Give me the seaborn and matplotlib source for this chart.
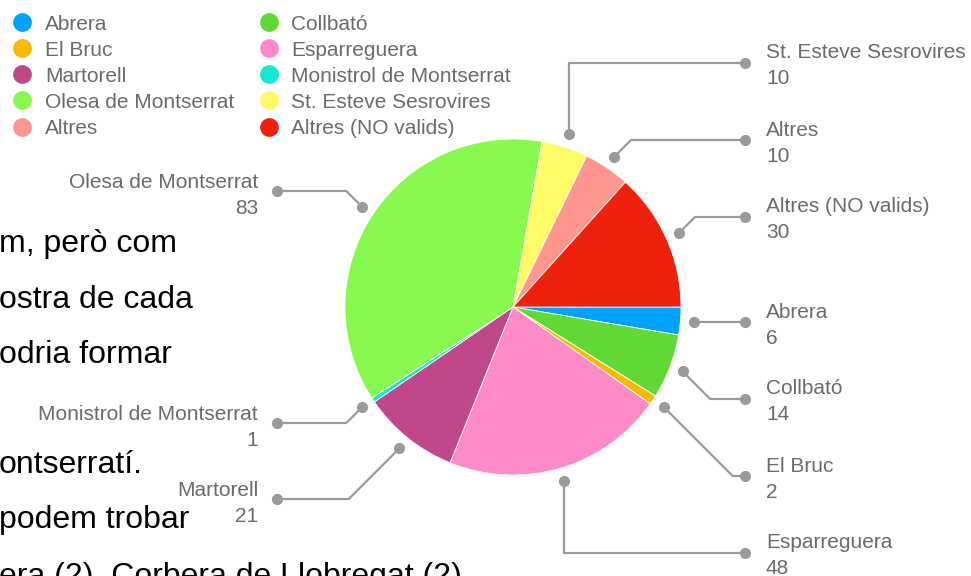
import numpy as np
import matplotlib
matplotlib.use("Agg")
import matplotlib.pyplot as plt
from matplotlib.lines import Line2D
import seaborn as sns

# data, in the order the slices run (clockwise from 3 o'clock)
towns = ['Abrera', 'Collbató', 'El Bruc', 'Esparreguera', 'Martorell',
         'Monistrol de Montserrat', 'Olesa de Montserrat', 'St. Esteve Sesrovires',
         'Altres', 'Altres (NO valids)']
counts = [6, 14, 2, 48, 21, 1, 83, 10, 10, 30]
colors = ['#00A2FF', '#61D836', '#F8BA00', '#FF8AC8', '#C0478A',
          '#16E7CF', '#88F94E', '#FFFB66', '#FF968D', '#EE220C']

# slide text showing behind the chart
slide_lines = ['m, però com', 'ostra de cada', 'odria formar',
               'ontserratí.', 'podem trobar', 'era (2), Corbera de Llobregat (2)']
slide_baselines = [252, 308, 363, 473, 528, 585]

# callout layout (pixels): side and y of the outer dot for each slice
callout_side = ['R', 'R', 'R', 'R', 'L', 'L', 'L', 'R', 'R', 'R']
callout_y = [322, 399, 476, 553, 499, 423, 191, 63, 140, 217]

W, H = 971, 576
cx, cy, radius = 513, 307, 168
fs = 15

sns.set_theme(style='white')
plt.rcParams['font.family'] = ['Liberation Sans', 'DejaVu Sans']

fig = plt.figure(figsize=(W / 100, H / 100), dpi=100)
ax = fig.add_axes([0, 0, 1, 1])

# text of the slide behind
for line, yb in zip(slide_lines, slide_baselines):
    ax.text(-1, yb, line, fontsize=23, color='black', va='baseline', ha='left')

wedges, _ = ax.pie(counts, colors=colors, startangle=0, counterclock=True,
                   center=(cx, cy), radius=radius,
                   wedgeprops=dict(edgecolor='white', linewidth=0.6))
ax.set_xlim(0, W)
ax.set_ylim(H, 0)
ax.set_aspect('equal')
ax.axis('off')

grey_line = '#9a9a9a'
grey_text = '#6b6b6b'
for w, name, val, side, ly in zip(wedges, towns, counts, callout_side, callout_y):
    mid = np.deg2rad((w.theta1 + w.theta2) / 2)
    px = cx + radius * 1.08 * np.cos(mid)
    py = cy + radius * 1.08 * np.sin(mid)
    if side == 'R':
        ex = 745
        if name == 'St. Esteve Sesrovires' or name == 'Esparreguera':
            kx = px
        else:
            kx = min(px + abs(ly - py), ex)
        ax.plot([px, kx, ex], [py, ly, ly], color=grey_line, lw=1.6,
                solid_capstyle='round', zorder=3)
        ax.plot([px, ex], [py, ly], 'o', color=grey_line, ms=7, zorder=4)
        ax.text(766, ly - 10, name, fontsize=fs, color=grey_text,
                ha='left', va='center')
        ax.text(766, ly + 16, str(val), fontsize=fs, color=grey_text,
                ha='left', va='center')
    else:
        ex = 277
        kx = max(px - abs(ly - py), ex)
        ax.plot([px, kx, ex], [py, ly, ly], color=grey_line, lw=1.6,
                solid_capstyle='round', zorder=3)
        ax.plot([px, ex], [py, ly], 'o', color=grey_line, ms=7, zorder=4)
        ax.text(258, ly - 8, name, fontsize=fs, color=grey_text,
                ha='right', va='center')
        ax.text(258, ly + 18, str(val), fontsize=fs, color=grey_text,
                ha='right', va='center')

# legend: two columns, filled row by row
order = [0, 2, 4, 6, 8, 1, 3, 5, 7, 9]
handles = [Line2D([], [], marker='o', ls='', ms=13.5, color=colors[i],
                  markeredgewidth=0) for i in order]
labels = [towns[i] for i in order]
ax.legend(handles, labels, ncol=2, frameon=False, loc='upper left',
          bbox_to_anchor=(9.5 / W, 1 - 14.5 / H), bbox_transform=fig.transFigure,
          fontsize=fs, labelcolor=grey_text, handletextpad=0.5,
          labelspacing=0.34, columnspacing=1.05, borderpad=0,
          borderaxespad=0, handlelength=1.2)

fig.savefig('out.png', dpi=100)
